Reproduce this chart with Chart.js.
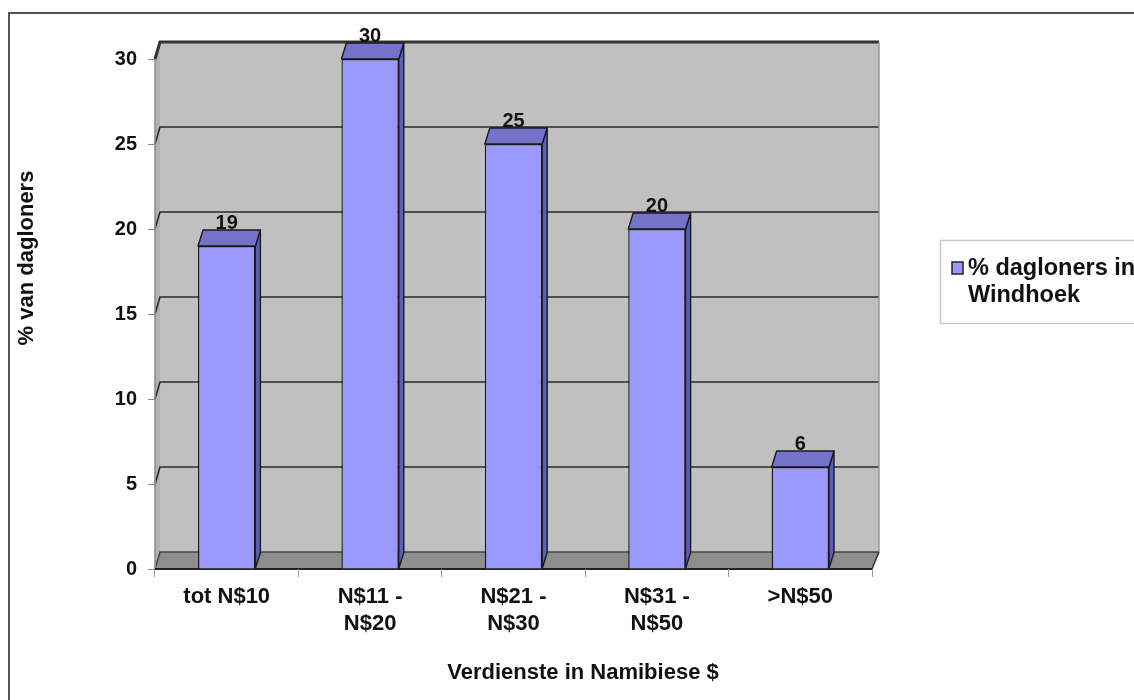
<!DOCTYPE html>
<html>
<head>
<meta charset="utf-8">
<script src="https://cdn.jsdelivr.net/npm/chart.js@4/dist/chart.umd.min.js"></script>
<style>
  html, body { margin: 0; padding: 0; background: #fff; overflow: hidden; }
  #wrap { width: 1134px; height: 700px; }
</style>
</head>
<body>
<div id="wrap"><canvas id="chart" width="1134" height="700"></canvas></div>
<script>
// earnings brackets and share of day labourers
const categories = ['tot N$10', ['N$11 -', 'N$20'], ['N$21 -', 'N$30'], ['N$31 -', 'N$50'], '>N$50'];
const values = [19, 30, 25, 20, 6];
const seriesName = '% dagloners in Windhoek';
const legendLines = ['% dagloners in', 'Windhoek'];
const yTitle = '% van dagloners';
const xTitle = 'Verdienste in Namibiese $';

const FONT = "'Liberation Sans', Arial, Helvetica, sans-serif";
const DX = 5, DY = 17;    // wall depth
const BDX = 5, BDY = 16;  // bar depth

function poly(ctx, pts) {
    ctx.beginPath();
    ctx.moveTo(pts[0][0], pts[0][1]);
    for (let i = 1; i < pts.length; i++) ctx.lineTo(pts[i][0], pts[i][1]);
    ctx.closePath();
}

const wall3d = {
    id: 'wall3d',
    beforeDraw(chart) {
        const { ctx, chartArea: a, scales: { y } } = chart;
        const rx = a.right + 7;
        ctx.save();
        ctx.fillStyle = '#fff';
        ctx.fillRect(0, 0, chart.width, chart.height);

        // outer frame
        ctx.strokeStyle = '#555';
        ctx.lineWidth = 2;
        ctx.beginPath();
        ctx.moveTo(9, chart.height + 5);
        ctx.lineTo(9, 13);
        ctx.lineTo(chart.width + 5, 13);
        ctx.stroke();

        // side wall, back wall, floor
        poly(ctx, [[a.left, a.top], [a.left + DX, a.top - DY], [a.left + DX, a.bottom - DY], [a.left, a.bottom]]);
        ctx.fillStyle = '#b2b2b2';
        ctx.fill();
        ctx.fillStyle = '#c0c0c0';
        ctx.fillRect(a.left + DX, a.top - DY, rx - a.left - DX, a.bottom - a.top);
        poly(ctx, [[a.left, a.bottom], [a.left + DX, a.bottom - DY], [rx, a.bottom - DY], [a.right, a.bottom]]);
        ctx.fillStyle = '#8e8e8e';
        ctx.fill();

        // gridlines on the walls
        y.ticks.forEach(t => {
            const yy = y.getPixelForValue(t.value);
            ctx.beginPath();
            ctx.moveTo(a.left, yy);
            ctx.lineTo(a.left + DX, yy - DY);
            ctx.lineTo(rx, yy - DY);
            if (t.value === 0) { ctx.strokeStyle = '#444'; ctx.lineWidth = 1.5; }
            else if (t.value === y.max) { ctx.strokeStyle = '#333'; ctx.lineWidth = 3; }
            else { ctx.strokeStyle = '#2a2a2a'; ctx.lineWidth = 1.6; }
            ctx.stroke();
        });

        // wall edges
        ctx.strokeStyle = '#9a9a9a';
        ctx.lineWidth = 1.5;
        ctx.beginPath();
        ctx.moveTo(rx, a.top - DY);
        ctx.lineTo(rx, a.bottom - DY);
        ctx.stroke();
        ctx.strokeStyle = '#8a8a8a';
        ctx.beginPath();
        ctx.moveTo(a.left, a.top);
        ctx.lineTo(a.left, a.bottom);
        ctx.stroke();
        ctx.strokeStyle = '#333';
        ctx.lineWidth = 1.5;
        ctx.beginPath();
        ctx.moveTo(rx, a.bottom - DY);
        ctx.lineTo(a.right, a.bottom);
        ctx.stroke();
        ctx.strokeStyle = '#222';
        ctx.lineWidth = 2;
        ctx.beginPath();
        ctx.moveTo(a.left, a.bottom);
        ctx.lineTo(a.right, a.bottom);
        ctx.stroke();
        ctx.restore();
    },
    afterDatasetsDraw(chart) {
        const { ctx } = chart;
        const meta = chart.getDatasetMeta(0);
        ctx.save();
        ctx.strokeStyle = '#1a1a1a';
        ctx.lineWidth = 1.4;
        ctx.lineJoin = 'round';
        meta.data.forEach((el, i) => {
            const { x, y, base, width } = el.getProps(['x', 'y', 'base', 'width'], true);
            const l = x - width / 2, r = x + width / 2;
            poly(ctx, [[r, y], [r + BDX, y - BDY], [r + BDX, base - BDY], [r, base]]);
            ctx.fillStyle = '#5d5dbb';
            ctx.fill();
            ctx.stroke();
            poly(ctx, [[l, y], [l + BDX, y - BDY], [r + BDX, y - BDY], [r, y]]);
            ctx.fillStyle = '#7373cc';
            ctx.fill();
            ctx.stroke();

            ctx.fillStyle = '#111';
            ctx.font = 'bold 20px ' + FONT;
            ctx.textAlign = 'center';
            ctx.textBaseline = 'alphabetic';
            ctx.fillText(String(values[i]), x, y - BDY - 1);
        });
        ctx.restore();
    },
    afterDraw(chart) {
        const { ctx } = chart;
        ctx.save();
        ctx.fillStyle = '#111';
        ctx.font = 'bold 22px ' + FONT;
        ctx.textAlign = 'center';
        ctx.textBaseline = 'middle';
        ctx.fillText(xTitle, 583, 673);
        ctx.translate(27, 258);
        ctx.rotate(-Math.PI / 2);
        ctx.fillText(yTitle, 0, 0);
        ctx.restore();

        // legend box
        ctx.save();
        ctx.strokeStyle = '#c8c8c8';
        ctx.lineWidth = 1.5;
        ctx.strokeRect(940.5, 240.5, 300, 83);
        ctx.fillStyle = chart.data.datasets[0].backgroundColor;
        ctx.fillRect(952, 262, 11, 12);
        ctx.strokeStyle = '#222';
        ctx.strokeRect(952, 262, 11, 12);
        ctx.fillStyle = '#111';
        ctx.font = 'bold 23.5px ' + FONT;
        ctx.textAlign = 'left';
        ctx.textBaseline = 'middle';
        legendLines.forEach((line, i) => ctx.fillText(line, 968, 269 + i * 27));
        ctx.restore();
    }
};

new Chart(document.getElementById('chart'), {
    type: 'bar',
    data: {
        labels: categories,
        datasets: [{
            label: seriesName,
            data: values,
            backgroundColor: '#9999ff',
            borderColor: '#1a1a1a',
            borderWidth: 1.4,
            categoryPercentage: 1,
            barPercentage: 0.4
        }]
    },
    options: {
        responsive: false,
        animation: false,
        devicePixelRatio: 1,
        layout: { padding: { top: 59, right: 262, bottom: 31, left: 0 } },
        plugins: { legend: { display: false }, tooltip: { enabled: false } },
        scales: {
            x: {
                afterFit(scale) { scale.height = 100; },
                border: { display: false },
                grid: { offset: true, drawOnChartArea: false, tickLength: 8, tickColor: '#999' },
                ticks: { color: '#111', padding: 7, maxRotation: 0, font: { family: FONT, size: 22, weight: 'bold' } }
            },
            y: {
                min: 0,
                max: 30,
                afterFit(scale) { scale.width = 155; },
                border: { display: false },
                grid: { drawOnChartArea: false, tickLength: 7, tickColor: '#888' },
                ticks: { stepSize: 5, color: '#111', padding: 11, font: { family: FONT, size: 20, weight: 'bold' } }
            }
        }
    },
    plugins: [wall3d]
});
</script>
</body>
</html>
